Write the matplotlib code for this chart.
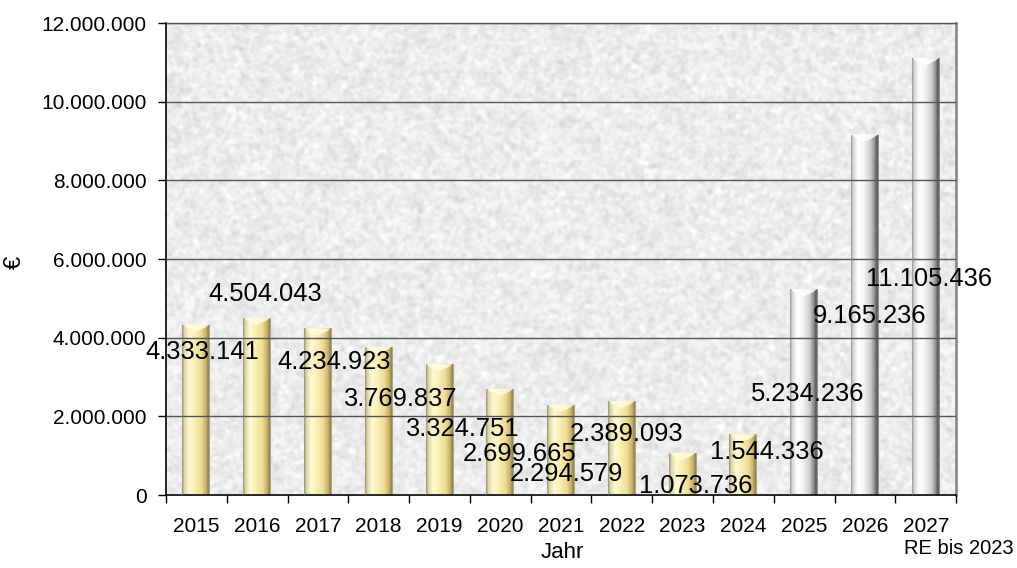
import numpy as np
import matplotlib
matplotlib.use("Agg")
import matplotlib.pyplot as plt
from matplotlib.colors import LinearSegmentedColormap
from matplotlib.patches import Polygon
from matplotlib.ticker import FuncFormatter, FixedLocator

plt.rcParams['font.family'] = ['Liberation Sans', 'DejaVu Sans']

years = ["2015", "2016", "2017", "2018", "2019", "2020", "2021",
         "2022", "2023", "2024", "2025", "2026", "2027"]
values = [4333141, 4504043, 4234923, 3769837, 3324751, 2699665, 2294579,
          2389093, 1073736, 1544336, 5234236, 9165236, 11105436]
n_actual = 10  # Ist-Werte bis 2024, danach Planwerte

# where each value label sits relative to its bar top (x in categories, y in euro)
label_dx = [0.10, 0.13, 0.27, 0.35, 0.37, 0.31, 0.08, 0.07, 0.21, 0.39, 0.06, 0.07, 0.06]
label_dy = [-0.70e6, 0.61e6, -0.85e6, -1.33e6, -1.65e6, -1.66e6, -1.76e6,
            -0.84e6, -0.85e6, -0.45e6, -2.67e6, -4.61e6, -5.61e6]


def fmt(v):
    return f"{int(v):,}".replace(",", ".")


gold = LinearSegmentedColormap.from_list("gold", [
    (0.00, "#a09878"), (0.08, "#e0d6a0"), (0.25, "#fffbd8"), (0.45, "#faefb4"),
    (0.70, "#eedc94"), (0.88, "#c4b068"), (0.95, "#8c7c48"), (1.00, "#b8b098")])
silver = LinearSegmentedColormap.from_list("silver", [
    (0.00, "#a8a8a8"), (0.08, "#d8d8d8"), (0.25, "#ffffff"), (0.45, "#f4f4f4"),
    (0.70, "#d0d0d0"), (0.86, "#8c8c8c"), (0.94, "#505050"), (1.00, "#a0a0a0")])


def granite(h, w, seed=7):
    # mottled light grey stone texture for the plot area
    rng = np.random.default_rng(seed)
    img = rng.normal(0, 1, (h, w))
    k = np.exp(-0.5 * (np.arange(-5, 6) / 1.6) ** 2)
    k /= k.sum()
    img = np.apply_along_axis(lambda r: np.convolve(r, k, mode="same"), 1, img)
    img = np.apply_along_axis(lambda c: np.convolve(c, k, mode="same"), 0, img)
    img = img / img.std()
    fine = rng.normal(0, 1, (h, w))
    img = 0.925 + 0.022 * img + 0.008 * fine
    return np.clip(img, 0, 1)


fig = plt.figure(figsize=(10.17, 5.68), dpi=100)
ax = fig.add_axes([0.1632, 0.1285, 0.777, 0.831])

x = np.arange(len(years))
ymax = 12_000_000
ax.set_xlim(-0.5, len(years) - 0.5)
ax.set_ylim(0, ymax)

tex = granite(472, 790)
ax.imshow(tex, cmap="gray", vmin=0, vmax=1, extent=(-0.5, len(years) - 0.5, 0, ymax),
          aspect="auto", zorder=0, interpolation="bilinear")

ax.yaxis.grid(True, color="#555555", linewidth=1.0, zorder=1)
ax.set_axisbelow(False)

width = 0.46
bars = ax.bar(x, values, width=width, color="none", edgecolor="none", zorder=2)
grad = np.linspace(0, 1, 64).reshape(1, -1)
cap = 0.18e6
for i, (b, v) in enumerate(zip(bars, values)):
    cmap = gold if i < n_actual else silver
    x0, x1 = b.get_x(), b.get_x() + b.get_width()
    im = ax.imshow(grad, cmap=cmap, extent=(x0, x1, 0, v), aspect="auto",
                   zorder=2, interpolation="bilinear")
    im.set_clip_path(b)
    # bevelled top of the column
    top_col = "#fffbe0" if i < n_actual else "#ffffff"
    ax.add_patch(Polygon([(x0 + 0.02, v), (x1 - 0.02, v), (x1 - 0.08, v - cap * 0.4),
                          (x0 + 0.5 * width, v - cap), (x0 + 0.06, v - cap * 0.4)],
                         closed=True, facecolor=top_col, edgecolor="none",
                         alpha=0.85, zorder=3))
    ax.plot([x0, x0], [0, v], color="#9a9a9a", lw=0.8, ls=(0, (1, 1)), zorder=3)

for i, v in enumerate(values):
    ax.text(x[i] + label_dx[i], v + label_dy[i], fmt(v), ha="center", va="center",
            fontsize=18.4, color="black", zorder=5)

ax.yaxis.set_major_locator(FixedLocator(np.arange(0, ymax + 1, 2_000_000)))
ax.yaxis.set_major_formatter(FuncFormatter(lambda v, p: fmt(v)))
ax.tick_params(axis="y", direction="out", length=6, width=1, labelsize=15, pad=8,
               colors="black")

ax.set_xticks(np.arange(-0.5, len(years), 1.0))
ax.set_xticklabels([])
ax.set_xticks(x, minor=True)
ax.set_xticklabels(years, minor=True)
ax.tick_params(axis="x", which="major", direction="out", length=6, width=1)
ax.tick_params(axis="x", which="minor", length=0, labelsize=15, pad=16)

for s in ("left", "bottom"):
    ax.spines[s].set_color("black")
    ax.spines[s].set_linewidth(1.2)
ax.spines["right"].set_color("#808080")
ax.spines["right"].set_linewidth(1.8)
ax.spines["top"].set_color("#555555")
ax.spines["top"].set_linewidth(1.0)

fig.text(562 / 1017, 1 - 552 / 568, "Jahr", ha="center", va="center", fontsize=16)
fig.text(1014 / 1017, 1 - 549 / 568, "RE bis 2023", ha="right", va="center", fontsize=14.5)
fig.text(15 / 1017, 1 - 262 / 568, "€", ha="center", va="center", fontsize=17, rotation=90)

fig.savefig("out.png", dpi=100)
